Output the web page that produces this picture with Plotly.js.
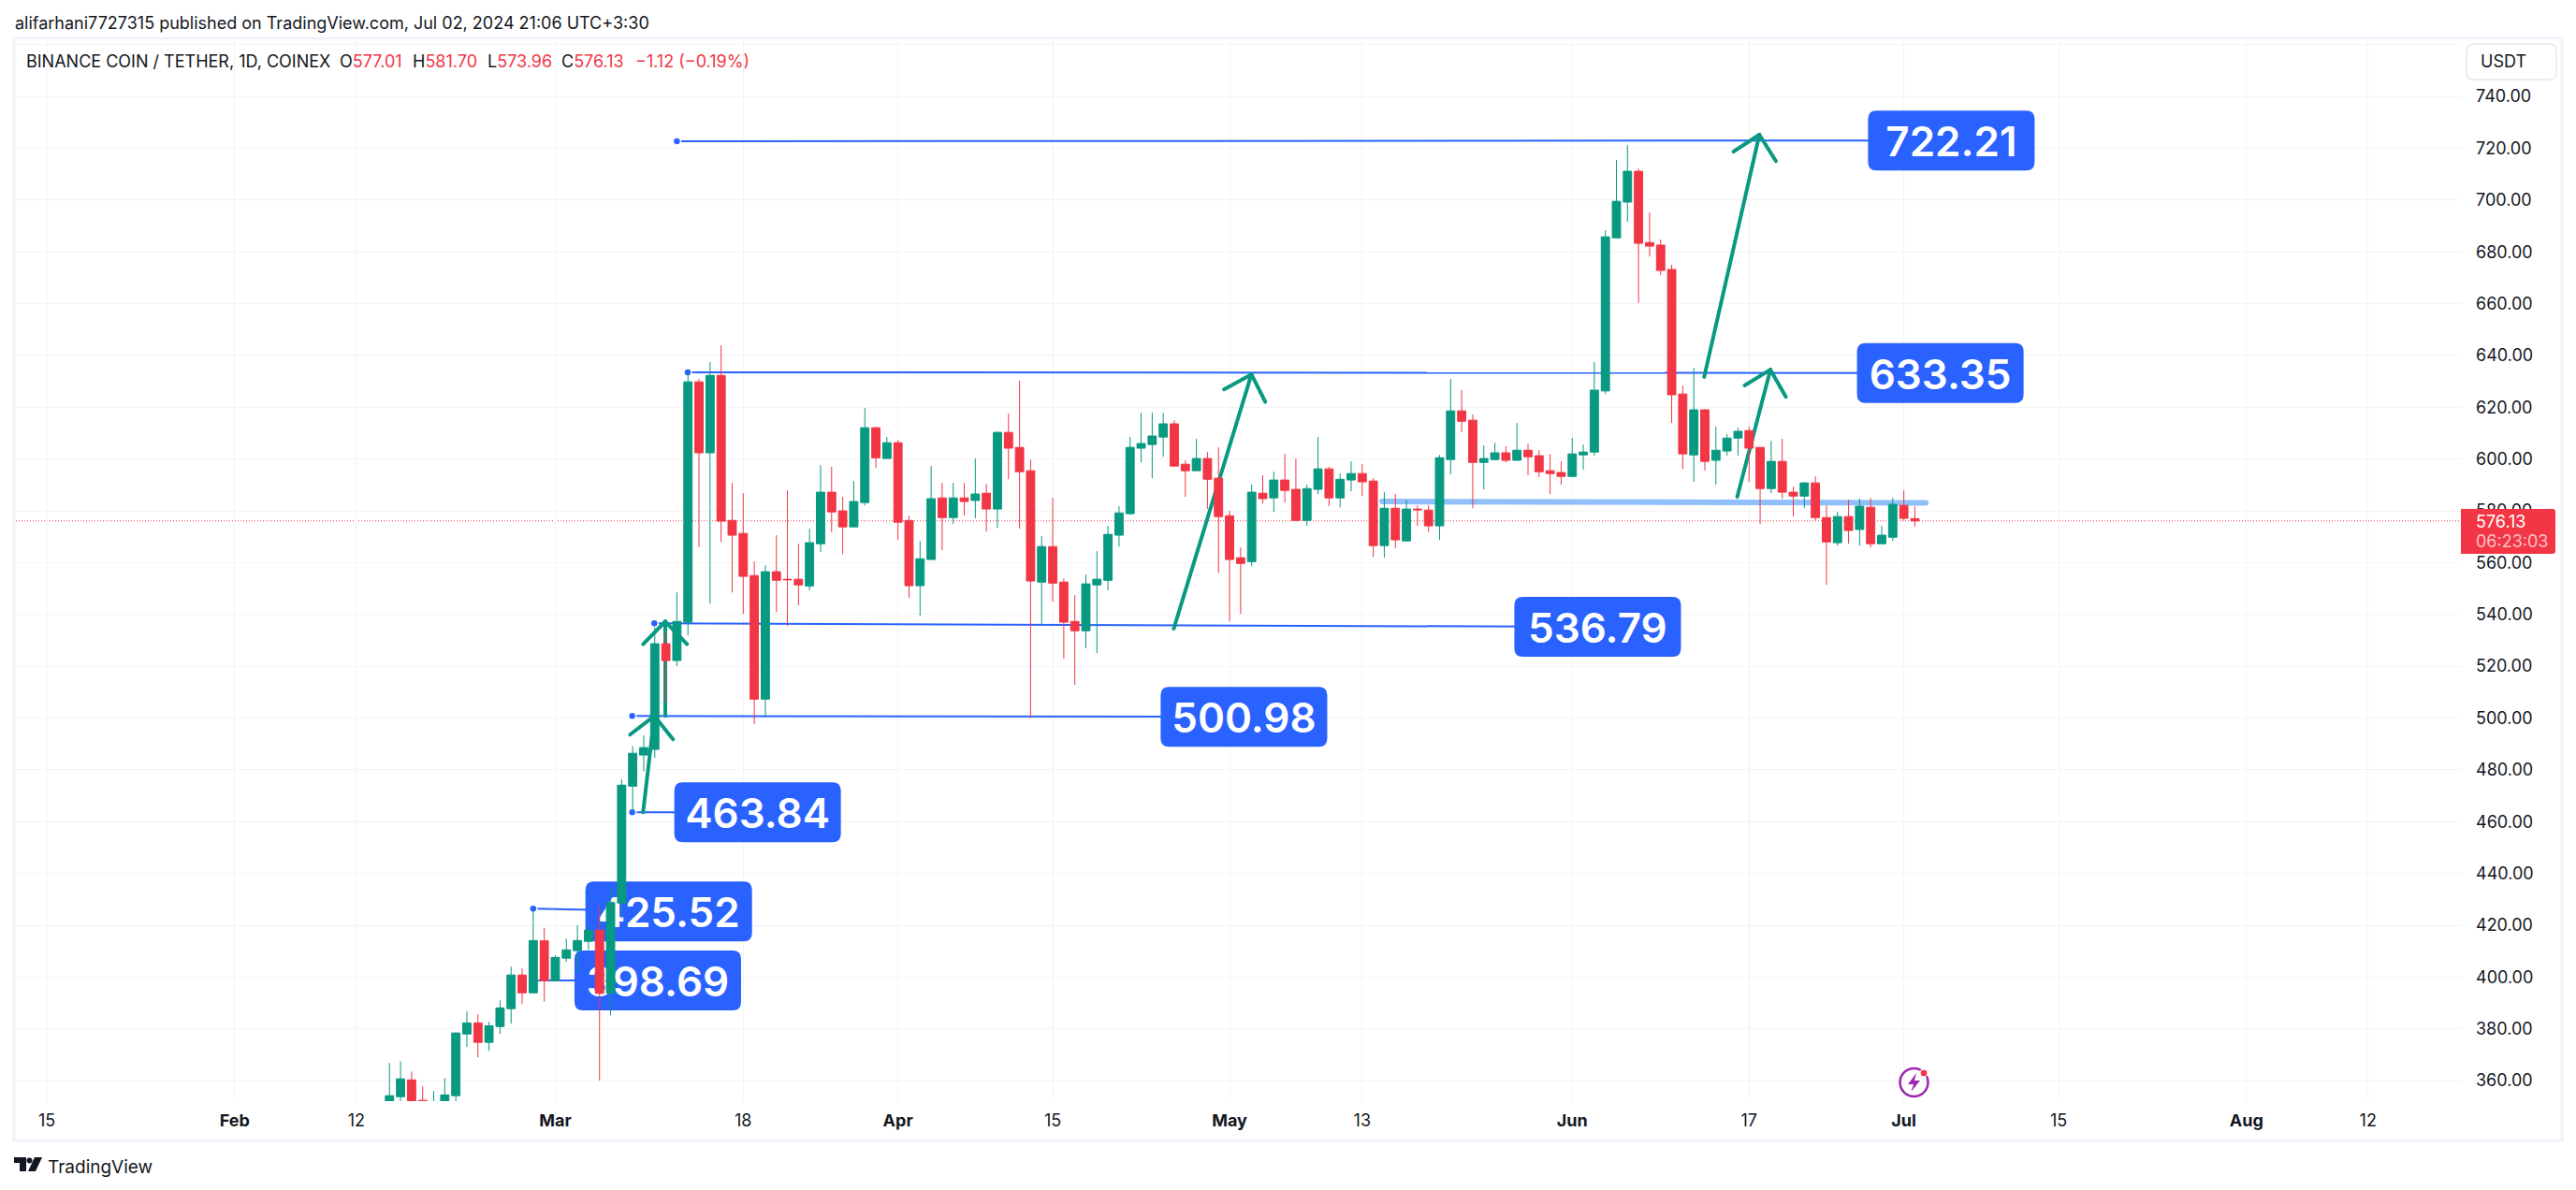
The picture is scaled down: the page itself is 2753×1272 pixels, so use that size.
<!DOCTYPE html>
<html>
<head>
<meta charset="utf-8">
<script src="https://cdn.plot.ly/plotly-3.0.1.min.js"></script>
<style>
html,body{margin:0;padding:0;background:#fff}
#chart{width:2753px;height:1272px}
.shapelayer path[style*="rgb(8, 153, 129)"],.shapelayer path[style*="rgb(144, 191, 249)"]{stroke-linecap:round}
</style>
</head>
<body>
<div id="chart"></div>
<script>
// ---------- candle values, one per day starting 2024-02-15 ----------
const firstDay = '2024-02-15';
const open = [347,353.8,360.3,352.4,342,350,354.2,378,382.3,374.8,380.9,387.8,400.8,393.9,414,
398.6,407.3,410.2,413.8,418.1,393.7,428.6,473.7,485.7,487.9,528.7,522.2,537,629.8,602.4,632.3,576.3,571.3,555,507.3,556.5,553.6,553.6,551,567.3,587.2,580,573.8,583.2,612.1,600.2,606.3,576.3,551.1,561.2,585,577.4,585,584,586.8,580.7,610.3,604.5,595.5,552.5,566.2,552.5,
537.3,533.7,551.4,553.2,570.6,578.9,604.2,605.6,608.5,613.6,598,595.5,600.2,592.6,578.1,561.9,560.4,586.8,585,591.9,588.3,576.3,588.3,596.2,585,591.9,594.4,591.5,566.6,581,568.4,580.7,580.3,574.2,599.8,618.6,615,598.7,599.8,602.4,599.5,603.4,601.3,595.5,594.8,593.3,601.6,602.7,626.3,685.4,699.2,711.1,683.6,682.6,673.2,625.1,601.6,619,599.5,603.1,608.1,611,604.5,588.6,599.1,587.2,585.7,590.8,577.4,567.7,577.8,572.8,581.4,567.3,569.8,582.1,577.01];
const high = [366.8,367.5,363.5,357.8,356,361,378.7,386.7,385.6,382.7,391,404,403.3,425.5,419,
408.4,414.9,420,420,427.4,434.6,476.3,489.2,493.3,535,533.3,548.5,633.35,630.9,637.4,643.9,590.8,586.8,560.4,559,570.6,587.9,567.3,573.1,597.7,597,585.4,591.5,619.7,612.5,608.5,607.4,578.1,568.4,597.3,590.8,590.8,590.8,600.2,590.4,610.7,617.5,630.2,599.8,570.2,585,553.9,
547.4,555.4,564.4,574.2,581.8,608.5,617.9,617.9,617.9,615,599.5,607.8,602.7,604.5,580,565.9,590.1,593.7,595.1,602,600.2,590.1,608.5,597,594.4,599.1,598,592.6,587.2,586.5,584.3,582.1,582.1,601.6,630.9,626.6,617.2,605.3,606.3,604.9,613.9,606,603.4,602,599.1,608.2,605.6,637.4,688.3,715.4,721.2,712.2,695.2,684.7,675,628.4,635.2,619.3,612.5,609.6,612.1,612.5,604.5,607,607.8,589.3,591.1,593.3,582.1,579.6,584.3,584.7,585,574.2,585,587.9,581.7];
const low = [345,350,345,348,340,346,350,373,369,371.5,378,382,389.6,393.9,390.6,
398.6,405.8,401.8,410.5,360,385.2,422.6,463.6,479.5,484.6,506.3,520.1,531.9,565.9,544.2,568,548.5,540.2,497.6,500.2,540.9,535.5,543.5,549.3,564.1,571.7,563.3,573.8,582.1,596.6,600.2,568.8,546.4,539.5,561.2,564.8,574.9,578.2,577.1,572,573.4,592.2,573.1,500,536.2,544.9,522.9,
512.8,526.9,525,549.3,566.2,578.5,598.7,592.6,600.9,597,585.4,595.5,580.7,556.1,537.3,540.2,558.6,582.8,579.6,583.2,576,574.2,586.5,581.8,581.4,587.5,585.7,562.3,561.9,565.5,568.4,574.2,571.7,568.8,594.1,610.3,581,588.3,599.5,598.7,599.5,593.7,593,586.5,590.1,593,595.9,601.3,625.1,685.4,691.6,660.2,678.2,671,613.9,596.2,591.2,595.5,590.1,601.3,601.3,591.2,574.9,586.8,584.7,577.8,581,576.3,551.4,566.6,567.3,566.6,565.9,567.3,568.4,576.3,573.96];
const close = [354.2,360.7,350,351.8,350,354.5,378.4,382.3,374.8,381.2,388.1,400.8,393.9,414.1,398.6,
407.6,410.5,414.1,418.1,393.7,428.8,474.1,486.4,488.6,528.7,522.2,537.3,629.8,602.4,632.3,576,570.6,554.7,507.3,556.5,553.2,553.4,551.4,567.7,587.2,579.6,573.8,583.6,612.1,600.5,606.3,575.6,551.1,561.5,584.7,577.4,585,583.6,586.5,580.7,610.3,604.2,595.1,552.9,566.2,552.1,537,
533.7,551.8,553.6,570.9,579.2,604.5,606,608.9,613.6,597.3,595.5,600.2,592.2,577.8,561.2,559.7,587.2,584.7,591.9,587.9,576.3,588.6,596.2,585,592.2,594.4,591.2,566.6,581,568.8,580.7,580.4,574.2,600.5,618.6,614.6,598.7,600.2,602.4,599.5,603.4,600.9,595.1,594.4,593.3,602,602.7,626.6,685.8,699.5,711.1,683.3,682.2,672.8,624.8,602,619,599.1,603.4,608.1,610.7,604.2,588.6,599.1,587.2,585.7,590.8,577.4,568,577.8,572.4,581.8,567.3,570.6,582.5,577.1,576.13];

// ---------- axis ticks ----------
const xTickDates = ['2024-01-15','2024-02-01','2024-02-12','2024-03-01','2024-03-18','2024-04-01','2024-04-15','2024-05-01','2024-05-13','2024-06-01','2024-06-17','2024-07-01','2024-07-15','2024-08-01','2024-08-12'];
const xTickLabels = ['15','<b>Feb</b>','12','<b>Mar</b>','18','<b>Apr</b>','15','<b>May</b>','13','<b>Jun</b>','17','<b>Jul</b>','15','<b>Aug</b>','12'];
const yTickValues = [360,380,400,420,440,460,480,500,520,540,560,580,600,620,640,660,680,700,720,740,760];
const yTickLabels = ['360.00','380.00','400.00','420.00','440.00','460.00','480.00','500.00','520.00','540.00','560.00','580.00','600.00','620.00','640.00','660.00','680.00','700.00','720.00','740.00',''];

// ---------- drawings (day = days after 2024-03-01) ----------
const levelText       = ['722.21','633.35','536.79','500.98','463.84','425.52','398.69'];
const levelStartDay   = [11,     11.98, 8.96,  6.96,  6.96,  -2,    -2];
const levelStartPrice = [722.7,  633.5, 536.6, 500.8, 463.6, 426.4, 398.7];
const levelEndDay     = [126.3,  125.3, 94.3,  62.3,  18.3,  10.26, 9.27];
const levelEndPrice   = [723,    633.2, 535.2, 500.5, 463.6, 425.3, 398.7];

const arrowTailDay    = [55.95, 106.93, 103.94, 7.94,  9.95];
const arrowTailPrice  = [534.5, 585.4,  631.7,  463.6, 500.8];
const arrowTipDay     = [62.98, 109.93, 108.93, 8.96,  9.95];
const arrowTipPrice   = [632.7, 634.5,  725.2,  500.8, 537.3];
const arrowLeftDay    = [60.5,  107.6,  106.59, 6.76,  7.94];
const arrowLeftPrice  = [626.9, 628.4,  718.7,  493.6, 528.5];
const arrowRightDay   = [64.23, 111.33, 110.43, 10.65, 11.92];
const arrowRightPrice = [622.1, 624,    715,    491.8, 528.5];

const supportDay   = [74.8, 124];
const supportPrice = [583.6, 583.1];
const lastPrice = 576.13;

// ---------- header text ----------
const publishedLine = 'alifarhani7727315 published on TradingView.com, Jul 02, 2024 21:06 UTC+3:30';
const symbolLine = 'BINANCE COIN / TETHER, 1D, COINEX';
const ohlcLetters = ['O','H','L','C'];
const ohlcValues = ['577.01','581.70','573.96','576.13'];
const changeText = '\u22121.12 (\u22120.19%)';

if ([high,low,close].some(a => a.length !== open.length)) throw new Error('length mismatch '+[open.length,high.length,low.length,close.length]);

const RED='#F23645', GREEN='#089981', BLUE='#2962FF', INK='#131722', FRAME='#F0F3FA', GRID='#F3F4F7';
const FONT='Inter, sans-serif';
const L=17,R=2630,T=43,B=1177;
const px = x => (x-L)/(R-L);
const py = y => (B-y)/(B-T);
const DRAW='between';

const MS=864e5;
const dayISO = n => new Date(Date.UTC(2024,2,1)+n*MS).toISOString().replace('T',' ').slice(0,19);
const dates = open.map((_,i)=>new Date(Date.parse(firstDay)+i*MS).toISOString().slice(0,10));

// label box half sizes on the chart scales (days / price)
const HW=7.536, HH=11.56, RD=0.76, RP=3.25;
function labelPath(day,price){
  const D=n=>dayISO(n).replace(' ','_');
  const P=(a,b)=>`${D(a)},${b}`;
  const x0=day-HW,x1=day+HW,y0=price-HH,y1=price+HH;
  return `M${P(x0+RD,y0)} L${P(x1-RD,y0)} Q${P(x1,y0)} ${P(x1,y0+RP)} L${P(x1,y1-RP)} Q${P(x1,y1)} ${P(x1-RD,y1)} L${P(x0+RD,y1)} Q${P(x0,y1)} ${P(x0,y1-RP)} L${P(x0,y0+RP)} Q${P(x0,y0)} ${P(x0+RD,y0)} Z`;
}
function paperRound(x0,y0,x1,y1,r){
  const P=(x,y)=>`${px(x)},${py(y)}`;
  return `M${P(x0+r,y0)} L${P(x1-r,y0)} Q${P(x1,y0)} ${P(x1,y0+r)} L${P(x1,y1-r)} Q${P(x1,y1)} ${P(x1-r,y1)} L${P(x0+r,y1)} Q${P(x0,y1)} ${P(x0,y1-r)} L${P(x0,y0+r)} Q${P(x0,y0)} ${P(x0+r,y0)} Z`;
}
const P2=(pts)=>'M'+pts.map(p=>px(p[0])+','+py(p[1])).join(' L')+' Z';

const shapes=[];
// last price line
shapes.push({type:'line',layer:DRAW,xref:'paper',yref:'y',x0:0,x1:1,y0:lastPrice,y1:lastPrice,line:{color:RED,width:1,dash:'1px,2px'}});
// support line
shapes.push({type:'line',layer:DRAW,xref:'x',yref:'y',x0:dayISO(supportDay[0]),x1:dayISO(supportDay[1]),y0:supportPrice[0],y1:supportPrice[1],line:{color:'#90BFF9',width:6}});
// levels
levelText.forEach((t,i)=>{
  shapes.push({type:'line',layer:DRAW,xref:'x',yref:'y',x0:dayISO(levelStartDay[i]),x1:dayISO(levelEndDay[i]),y0:levelStartPrice[i],y1:levelEndPrice[i],line:{color:BLUE,width:2}});
  shapes.push({type:'circle',layer:DRAW,xref:'x',yref:'y',xsizemode:'pixel',ysizemode:'pixel',xanchor:dayISO(levelStartDay[i]),yanchor:levelStartPrice[i],x0:-4,x1:4,y0:-4,y1:4,fillcolor:BLUE,line:{color:'#fff',width:1.5}});
});
// arrows
arrowTailDay.forEach((_,i)=>{
  const tip=[dayISO(arrowTipDay[i]),arrowTipPrice[i]];
  [[arrowTailDay[i],arrowTailPrice[i]],[arrowLeftDay[i],arrowLeftPrice[i]],[arrowRightDay[i],arrowRightPrice[i]]].forEach(q=>{
    shapes.push({type:'line',layer:DRAW,xref:'x',yref:'y',x0:dayISO(q[0]),y0:q[1],x1:tip[0],y1:tip[1],line:{color:GREEN,width:4}});
  });
});
// level labels (below the candles, like the reference)
levelText.forEach((t,i)=>{
  const d=levelEndDay[i],p=levelEndPrice[i];
  shapes.push({type:'path',layer:DRAW,xref:'x',yref:'y',path:labelPath(d,p),fillcolor:BLUE,line:{width:0}});
  shapes.push({type:'rect',layer:DRAW,xref:'x',yref:'y',x0:dayISO(d-HW),x1:dayISO(d+HW),y0:p-HH,y1:p+HH,fillcolor:'rgba(0,0,0,0)',line:{width:0},label:{text:t,textposition:'middle center',font:{family:FONT,size:44,weight:600,color:'#fff'}}});
});
// outer frame
const pf={xref:'paper',yref:'paper',layer:'above'};
shapes.push(Object.assign({},pf,{type:'rect',x0:px(15),x1:px(2738),y0:py(41),y1:py(1219),line:{color:FRAME,width:3},fillcolor:'rgba(0,0,0,0)'}));
// price tag
shapes.push(Object.assign({},pf,{type:'path',path:(()=>{const P=(x,y)=>`${px(x)},${py(y)}`;return `M${P(2630,544)} L${P(2728,544)} Q${P(2731,544)} ${P(2731,547)} L${P(2731,589)} Q${P(2731,592)} ${P(2728,592)} L${P(2630,592)} Z`;})(),fillcolor:RED,line:{width:0}}));
// USDT button
shapes.push(Object.assign({},pf,{type:'path',path:paperRound(2636,47,2732,85,8),fillcolor:'#fff',line:{color:'#E6E8F0',width:1.5}}));
// logo
shapes.push(Object.assign({},pf,{type:'path',path:P2([[15,1237],[28,1237],[28,1252],[21,1252],[21,1243],[15,1243]]),fillcolor:INK,line:{width:0}}));
shapes.push(Object.assign({},pf,{type:'circle',x0:px(28.5),x1:px(34.5),y0:py(1237.5),y1:py(1243.5),fillcolor:INK,line:{width:0}}));
shapes.push(Object.assign({},pf,{type:'path',path:P2([[37,1237],[45,1237],[38,1252],[30,1252]]),fillcolor:INK,line:{width:0}}));
// alert icon
shapes.push(Object.assign({},pf,{type:'circle',x0:px(2030.5),x1:px(2060.5),y0:py(1142),y1:py(1172),fillcolor:'rgba(0,0,0,0)',line:{color:'#9C27B0',width:2.5}}));
shapes.push(Object.assign({},pf,{type:'path',path:P2([[2048,1147],[2039,1159],[2045,1159],[2042.5,1167],[2052,1155],[2046,1155]]),fillcolor:'#9C27B0',line:{width:0}}));
shapes.push(Object.assign({},pf,{type:'circle',x0:px(2052),x1:px(2060),y0:py(1143),y1:py(1151),fillcolor:RED,line:{color:'#fff',width:1}}));

const ann=(x,y,text,opt)=>Object.assign({xref:'paper',yref:'paper',x:px(x),y:py(y),text,showarrow:false,xanchor:'left',yanchor:'middle',borderpad:0,font:{family:FONT,size:18,color:INK}},opt||{});
const annotations=[
  ann(15,24,publishedLine),
  ann(27,65,symbolLine),
];
const ohlcX=[362,440,519.5,599];
ohlcLetters.forEach((l,i)=>annotations.push(ann(ohlcX[i],65,`${l}<span style="color:${RED}">${ohlcValues[i]}</span>`)));
annotations.push(ann(678,65,changeText,{font:{family:FONT,size:18,color:RED}}));
annotations.push(ann(2645,557.5,lastPrice.toFixed(2),{font:{family:FONT,size:18,color:'#fff'}}));
annotations.push(ann(2645,578.5,'06:23:03',{font:{family:FONT,size:18,color:'rgba(255,255,255,0.7)'}}));
annotations.push(ann(2650,65.5,'USDT',{font:{family:FONT,size:18,color:INK}}));
annotations.push(ann(50,1247,'TradingView',{font:{family:FONT,size:19,color:INK}}));

const trace={type:'candlestick',x:dates,open,high,low,close,
  increasing:{line:{color:GREEN,width:1},fillcolor:GREEN},
  decreasing:{line:{color:RED,width:1},fillcolor:RED},
  whiskerwidth:0,hoverinfo:'skip',showlegend:false};

const layout={
  width:2753,height:1272,paper_bgcolor:'#fff',plot_bgcolor:'#fff',showlegend:false,
  margin:{l:L,r:2753-R,t:T,b:1272-B,pad:0},
  boxgap:0.25,boxgroupgap:0,
  font:{family:FONT,size:18,color:INK},
  xaxis:{type:'date',range:['2024-01-12 04:48:00','2024-08-20 09:36:00'],fixedrange:true,
    tickmode:'array',tickvals:xTickDates,ticktext:xTickLabels,ticks:'',showline:false,zeroline:false,
    showgrid:true,gridcolor:GRID,gridwidth:1,rangeslider:{visible:false},
    tickfont:{family:FONT,size:18,color:INK},tickangle:0,ticklabelstandoff:8},
  yaxis:{side:'right',range:[352.1,761.7],fixedrange:true,
    tickmode:'array',tickvals:yTickValues,ticktext:yTickLabels,ticks:'',showline:false,zeroline:false,
    showgrid:true,gridcolor:GRID,gridwidth:1,
    tickfont:{family:FONT,size:18,color:INK},ticklabelstandoff:15},
  shapes,annotations
};
Plotly.newPlot('chart',[trace],layout,{displayModeBar:false,staticPlot:true,responsive:false});
</script>
</body>
</html>
